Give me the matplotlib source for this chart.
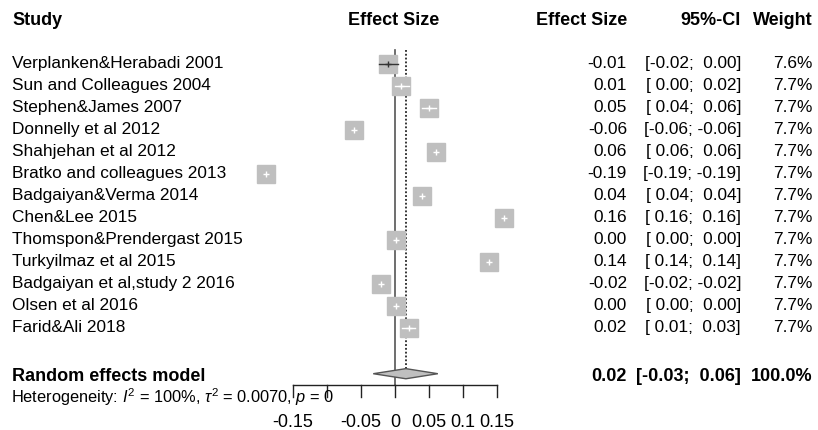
import matplotlib
matplotlib.use("Agg")
import matplotlib.pyplot as plt
from matplotlib.patches import Polygon
from matplotlib import transforms

plt.rcParams['font.family'] = ['Liberation Sans', 'DejaVu Sans']
plt.rcParams['mathtext.fontset'] = 'custom'
plt.rcParams['mathtext.rm'] = 'Liberation Sans'
plt.rcParams['mathtext.it'] = 'Liberation Sans:italic'
plt.rcParams['mathtext.bf'] = 'Liberation Sans:bold'

# study data
studies = ["Verplanken&Herabadi 2001", "Sun and Colleagues 2004", "Stephen&James 2007",
           "Donnelly et al 2012", "Shahjehan et al 2012", "Bratko and colleagues 2013",
           "Badgaiyan&Verma 2014", "Chen&Lee 2015", "Thomspon&Prendergast 2015",
           "Turkyilmaz et al 2015", "Badgaiyan et al,study 2 2016", "Olsen et al 2016",
           "Farid&Ali 2018"]
effect = [-0.010, 0.009, 0.050, -0.060, 0.060, -0.189, 0.040, 0.161, 0.001, 0.138, -0.020, 0.001, 0.020]
lower = [-0.024, 0.000, 0.040, -0.060, 0.060, -0.190, 0.040, 0.160, 0.000, 0.140, -0.020, 0.000, 0.010]
upper = [0.004, 0.020, 0.060, -0.060, 0.060, -0.190, 0.040, 0.160, 0.000, 0.140, -0.020, 0.000, 0.030]
weight = [7.6, 7.7, 7.7, 7.7, 7.7, 7.7, 7.7, 7.7, 7.7, 7.7, 7.7, 7.7, 7.7]

# random effects model
re_est, re_lo, re_hi = 0.016, -0.032, 0.063
re_label = ("0.02", "[-0.03;  0.06]", "100.0%")
hetero = r"Heterogeneity: $I^2$ = 100%, $\tau^2$ = 0.0070, $p$ = 0"

tick_vals = [-0.15, -0.10, -0.05, 0, 0.05, 0.10, 0.15]
tick_labels = ["-0.15", "", "-0.05", "0", "0.05", "0.1", "0.15"]

W, H = 818, 430
PX = 680.0          # pixels per effect-size unit
X0 = 395.0          # pixel column of zero
ROW = 22.0          # pixels per row
Y0 = 63.5           # pixel row of first study

fig = plt.figure(figsize=(W / 100, H / 100), dpi=100)
ax = fig.add_axes([0, 0, 1, 1])
ax.set_xlim(-X0 / PX, (W - X0) / PX)
ax.set_ylim((H - Y0) / ROW, -Y0 / ROW)
ax.axis("off")

tr = transforms.blended_transform_factory(fig.transFigure, ax.transData)
fs = 12.4
fsb = 13
gray = "#BFBFBF"
dark = "#555555"

y_re = 14.1
y_axis = 14.6

# reference lines
ax.plot([0, 0], [-0.6, y_axis], color=dark, lw=1.2, zorder=1)
ax.plot([re_est, re_est], [-0.6, y_re - 0.22], color="black", lw=1.1, ls=(0, (1.2, 1.3)), zorder=1)

for i, (name, e, lo, hi, w) in enumerate(zip(studies, effect, lower, upper, weight)):
    ms = 13.2 * (w / 7.7) ** 0.5
    sq = ms * 100 / 72 / PX
    ax.plot(e, i, marker="s", ms=ms, color=gray, mec=gray, zorder=2)
    inside = (hi - lo) < sq
    col = "white" if inside else "#333333"
    ax.plot([lo, hi], [i, i], color=col, lw=1.0, zorder=3)
    ax.plot(e, i, marker="+", ms=5, mew=1.0, color=col, zorder=3)
    ax.text(12 / W, i, name, transform=tr, fontsize=fs, va="center", ha="left")
    ax.text(627 / W, i, f"{e:.2f}".replace("-0.00", "0.00"), transform=tr, fontsize=fs, va="center", ha="right")
    ci = "[%5.2f; %5.2f]" % (lo, hi)
    ax.text(741 / W, i, ci, transform=tr, fontsize=fs, va="center", ha="right")
    ax.text(813 / W, i, f"{w:.1f}%", transform=tr, fontsize=fs, va="center", ha="right")

# headers
hy = -1.95
ax.text(12 / W, hy, "Study", transform=tr, fontsize=fsb, weight="bold", va="center", ha="left")
ax.text(394 / W, hy, "Effect Size", transform=tr, fontsize=fsb, weight="bold", va="center", ha="center")
ax.text(627 / W, hy, "Effect Size", transform=tr, fontsize=fsb, weight="bold", va="center", ha="right")
ax.text(741 / W, hy, "95%-CI", transform=tr, fontsize=fsb, weight="bold", va="center", ha="right")
ax.text(813 / W, hy, "Weight", transform=tr, fontsize=fsb, weight="bold", va="center", ha="right")

# random effects diamond
h = 0.23
ax.add_patch(Polygon([[re_lo, y_re], [re_est, y_re - h], [re_hi, y_re], [re_est, y_re + h]],
                     closed=True, facecolor=gray, edgecolor=dark, lw=1.0, zorder=3))
yb = 14.42
ax.text(12 / W, yb, "Random effects model", transform=tr, fontsize=fsb, weight="bold", va="baseline", ha="left")
ax.text(627 / W, yb, re_label[0], transform=tr, fontsize=fsb, weight="bold", va="baseline", ha="right")
ax.text(741 / W, yb, re_label[1], transform=tr, fontsize=fsb, weight="bold", va="baseline", ha="right")
ax.text(813 / W, yb, re_label[2], transform=tr, fontsize=fsb, weight="bold", va="baseline", ha="right")
ax.text(11 / W, 15.45, hetero, transform=tr, fontsize=11.8, va="baseline", ha="left")

# bottom axis
ax.plot([tick_vals[0], tick_vals[-1]], [y_axis, y_axis], color="#222222", lw=1.0, zorder=2)
for v, lab in zip(tick_vals, tick_labels):
    ax.plot([v, v], [y_axis, y_axis + 0.55], color="#222222", lw=1.0, zorder=2)
    if lab:
        ax.text(v, 16.3, lab, fontsize=fsb, va="center", ha="center")

fig.savefig("out.png", dpi=100)
plt.close(fig)
